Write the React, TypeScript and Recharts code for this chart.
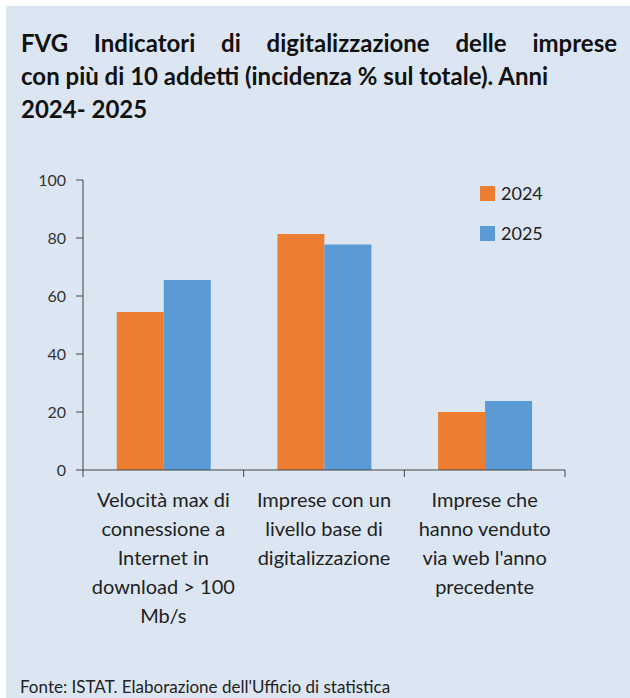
import React from 'react'
import { Bar, BarChart, XAxis, YAxis } from 'recharts'

const categories = [
  'Velocità max di\nconnessione a\nInternet in\ndownload > 100\nMb/s',
  'Imprese con un\nlivello base di\ndigitalizzazione',
  "Imprese che\nhanno venduto\nvia web l'anno\nprecedente",
]
const series = ['2024', '2025']
const values2024 = [54.5, 81.4, 20]
const values2025 = [65.5, 77.8, 23.8]
const yTicks = [0, 20, 40, 60, 80, 100]

const data = categories.map((name, i) => ({ name, y2024: values2024[i], y2025: values2025[i] }))

const ORANGE = '#ed7d31'
const BLUE = '#5b9bd5'
const BG = '#dce6f2'
const FONT = 'Lato, "Open Sans", sans-serif'

const CHART_W = 630
const Y_W = 83
const M_RIGHT = 65
const BAND = (CHART_W - Y_W - M_RIGHT) / categories.length

const CategoryTick = (props: any) => {
  const { x, y, payload, index } = props
  const lines = String(payload.value).split('\n')
  return (
    <g>
      <line x1={x - BAND / 2} y1={y} x2={x - BAND / 2} y2={y + 7} stroke="#444" />
      {index === categories.length - 1 && (
        <line x1={x + BAND / 2} y1={y} x2={x + BAND / 2} y2={y + 7} stroke="#444" />
      )}
      <text x={x} y={y + 37} textAnchor="middle" fill="#222" fontSize={20}>
        {lines.map((l, i) => (
          <tspan key={i} x={x} dy={i === 0 ? 0 : 29}>
            {l}
          </tspan>
        ))}
      </text>
    </g>
  )
}

export default function App() {
  const colors = [ORANGE, BLUE]
  return (
    <div style={{ position: 'absolute', left: 0, top: 0, width: 630, height: 698, background: '#fff', overflow: 'hidden' }}>
      <div style={{ position: 'absolute', left: 6, top: 6, right: 0, bottom: 0, background: BG }} />
      <div
        style={{
          position: 'absolute',
          left: 21,
          top: 26,
          width: 596,
          fontFamily: FONT,
          fontWeight: 700,
          fontSize: 24,
          lineHeight: '33px',
          color: '#111',
        }}
      >
        <div style={{ textAlign: 'justify', textAlignLast: 'justify' }}>FVG Indicatori di digitalizzazione delle imprese</div>
        <div style={{ whiteSpace: 'nowrap' }}>con più di 10 addetti (incidenza % sul totale). Anni</div>
        <div>2024- 2025</div>
      </div>
      <div style={{ position: 'absolute', left: 0, top: 160, fontFamily: FONT }}>
        <BarChart
          width={CHART_W}
          height={480}
          data={data}
          margin={{ top: 20, right: M_RIGHT, left: 0, bottom: 0 }}
          barCategoryGap="21%"
          barGap={0}
        >
          <XAxis
            dataKey="name"
            height={170}
            tickLine={false}
            tickSize={0}
            tickMargin={0}
            axisLine={{ stroke: '#444' }}
            tick={<CategoryTick />}
            interval={0}
          />
          <YAxis
            width={Y_W}
            domain={[0, 100]}
            ticks={yTicks}
            tickSize={7}
            tickMargin={10}
            axisLine={{ stroke: '#444' }}
            tickLine={{ stroke: '#444' }}
            tick={{ fill: '#333', fontSize: 16 }}
          />
          <Bar dataKey="y2024" name="2024" fill={ORANGE} isAnimationActive={false} />
          <Bar dataKey="y2025" name="2025" fill={BLUE} isAnimationActive={false} />
        </BarChart>
      </div>
      <div style={{ position: 'absolute', left: 480, top: 173, fontFamily: FONT, fontSize: 18, color: '#222' }}>
        {series.map((s, i) => (
          <div key={s} style={{ display: 'flex', alignItems: 'center', height: 40 }}>
            <span style={{ width: 15, height: 15, background: colors[i], marginRight: 6, display: 'inline-block' }} />
            {s}
          </div>
        ))}
      </div>
      <div style={{ position: 'absolute', left: 20, top: 676, fontFamily: FONT, fontSize: 17, color: '#222' }}>
        Fonte: ISTAT. Elaborazione dell'Ufficio di statistica
      </div>
    </div>
  )
}
